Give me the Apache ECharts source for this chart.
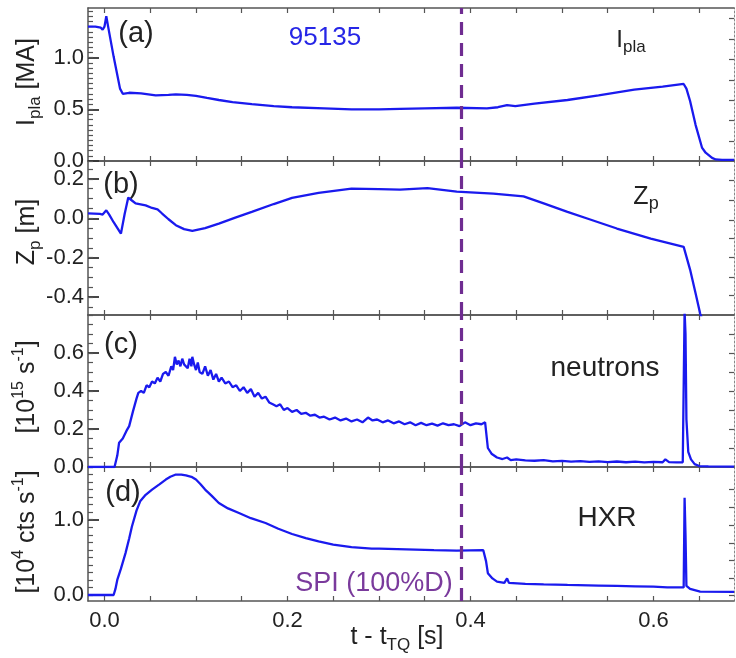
<!DOCTYPE html>
<html>
<head>
<meta charset="utf-8">
<script src="https://cdn.jsdelivr.net/npm/echarts@6/dist/echarts.min.js"></script>
<style>html,body{margin:0;padding:0;background:#fff}#c{width:736px;height:658px}</style>
</head>
<body>
<div id="c"></div>
<script>
// ---------------- DATA ----------------
// Panel (a) plasma current I_pla [MA]
const tA = [-0.018,-0.010,-0.004,-0.002,0.000,0.002,0.004,0.010,0.017,0.020,0.027,0.040,0.056,0.070,0.078,0.090,0.100,0.112,0.125,0.140,0.161,0.185,0.205,0.240,0.270,0.300,0.323,0.350,0.385,0.418,0.430,0.440,0.449,0.470,0.506,0.540,0.579,0.610,0.633,0.636,0.640,0.646,0.653,0.657,0.664,0.668,0.675,0.688];
const vA = [1.30,1.30,1.29,1.27,1.30,1.40,1.30,1.01,0.70,0.65,0.66,0.655,0.635,0.64,0.645,0.64,0.63,0.61,0.59,0.57,0.55,0.53,0.52,0.51,0.50,0.50,0.505,0.51,0.515,0.51,0.52,0.54,0.53,0.555,0.59,0.635,0.69,0.72,0.745,0.70,0.58,0.35,0.13,0.08,0.03,0.015,0.01,0.01];
// Panel (b) vertical position Z_p [m]
const tB = [-0.018,-0.005,-0.002,0.002,0.005,0.010,0.018,0.022,0.026,0.030,0.034,0.045,0.052,0.058,0.063,0.070,0.078,0.087,0.096,0.110,0.125,0.143,0.161,0.185,0.205,0.234,0.270,0.300,0.323,0.353,0.385,0.425,0.458,0.480,0.506,0.530,0.560,0.597,0.633,0.640,0.646,0.651,0.654];
const vB = [0.025,0.022,0.019,0.040,0.020,-0.020,-0.078,0.020,0.105,0.090,0.075,0.065,0.052,0.045,0.024,-0.005,-0.035,-0.055,-0.064,-0.050,-0.027,0.003,0.032,0.072,0.103,0.128,0.150,0.148,0.145,0.153,0.135,0.125,0.111,0.075,0.032,-0.005,-0.052,-0.103,-0.145,-0.26,-0.38,-0.483,-0.52];
// Panel (c) neutrons [1e15 s^-1]
const tC = [-0.018,0.011,0.014,0.016,0.020,0.024,0.027,0.031,0.035,0.037,0.040,0.043,0.046,0.049,0.052,0.055,0.058,0.061,0.064,0.067,0.070,0.073,0.075,0.077,0.079,0.081,0.083,0.085,0.087,0.089,0.091,0.093,0.095,0.096,0.098,0.100,0.102,0.104,0.107,0.110,0.113,0.116,0.119,0.122,0.125,0.128,0.132,0.136,0.140,0.144,0.148,0.152,0.156,0.160,0.164,0.168,0.172,0.176,0.180,0.184,0.188,0.192,0.196,0.200,0.205,0.210,0.215,0.220,0.225,0.230,0.235,0.240,0.246,0.252,0.258,0.264,0.270,0.276,0.282,0.288,0.293,0.298,0.304,0.310,0.316,0.322,0.328,0.334,0.340,0.346,0.352,0.358,0.364,0.370,0.376,0.382,0.388,0.394,0.400,0.406,0.412,0.416,0.419,0.423,0.429,0.435,0.440,0.444,0.450,0.460,0.470,0.480,0.490,0.500,0.510,0.520,0.530,0.540,0.550,0.560,0.570,0.580,0.590,0.600,0.610,0.613,0.617,0.625,0.632,0.634,0.635,0.636,0.638,0.641,0.645,0.650,0.660,0.688];
const vC = [0.0,0.0,0.06,0.128,0.15,0.19,0.215,0.29,0.36,0.39,0.40,0.39,0.43,0.42,0.45,0.44,0.47,0.45,0.49,0.50,0.48,0.53,0.51,0.58,0.54,0.56,0.53,0.57,0.54,0.55,0.52,0.57,0.53,0.58,0.54,0.51,0.55,0.50,0.49,0.53,0.48,0.51,0.46,0.49,0.45,0.47,0.44,0.45,0.42,0.43,0.40,0.42,0.39,0.41,0.37,0.39,0.36,0.37,0.34,0.33,0.32,0.33,0.30,0.31,0.29,0.30,0.28,0.285,0.27,0.275,0.26,0.265,0.25,0.26,0.245,0.255,0.24,0.25,0.235,0.26,0.245,0.25,0.235,0.245,0.23,0.24,0.225,0.235,0.22,0.232,0.22,0.228,0.218,0.23,0.22,0.225,0.215,0.235,0.22,0.23,0.225,0.235,0.10,0.07,0.05,0.042,0.05,0.036,0.04,0.035,0.033,0.036,0.030,0.032,0.028,0.031,0.027,0.030,0.026,0.029,0.025,0.028,0.024,0.027,0.025,0.04,0.026,0.024,0.025,0.82,0.70,0.25,0.08,0.04,0.015,0.005,0.003,0.002];
// Panel (d) HXR [1e4 cts s^-1]
const tD = [-0.018,0.010,0.012,0.014,0.018,0.023,0.027,0.030,0.035,0.039,0.045,0.052,0.060,0.067,0.072,0.078,0.084,0.089,0.095,0.100,0.105,0.110,0.117,0.125,0.135,0.147,0.160,0.176,0.190,0.205,0.220,0.234,0.250,0.270,0.292,0.294,0.296,0.300,0.330,0.360,0.385,0.414,0.417,0.419,0.424,0.429,0.437,0.440,0.442,0.460,0.480,0.506,0.540,0.560,0.580,0.600,0.615,0.633,0.634,0.635,0.636,0.640,0.651,0.688];
const vD = [0.0,0.0,0.08,0.20,0.35,0.556,0.75,0.91,1.12,1.244,1.33,1.40,1.47,1.533,1.57,1.60,1.60,1.59,1.57,1.533,1.47,1.40,1.32,1.222,1.15,1.089,1.02,0.956,0.88,0.81,0.755,0.711,0.67,0.636,0.615,0.64,0.615,0.615,0.605,0.595,0.59,0.595,0.45,0.29,0.22,0.178,0.16,0.22,0.16,0.148,0.14,0.133,0.125,0.12,0.115,0.11,0.102,0.10,1.29,0.80,0.12,0.08,0.044,0.04];

// tick labels
const xTickLabels = [0.0, 0.2, 0.4, 0.6];
const aTicks = [0.0, 0.5, 1.0];
const bTicks = [-0.4, -0.2, 0.0, 0.2];
const cTicks = [0.0, 0.2, 0.4, 0.6];
const dTicks = [0.0, 1.0];
const sliceTime = 0.385;

// ---------------- LAYOUT ----------------
const FONT = '"Liberation Sans", Arial, sans-serif';
const LEFT = 88, WIDTH = 646;
const panels = [
  {top: 8,   height: 153, min: 0,     max: 1.48, ticks: aTicks, minorStep: 0.05, right: [0.19,0.39,0.59,0.78,0.98,1.18,1.38], t: tA, v: vA},
  {top: 161, height: 154, min: -0.49, max: 0.29, ticks: bTicks, minorStep: 0.05, right: [0.19,0.09,-0.01,-0.10,-0.20,-0.30,-0.39], t: tB, v: vB},
  {top: 315, height: 152, min: 0,     max: 0.8,  ticks: cTicks, minorStep: 0.05, right: [0.1,0.2,0.3,0.4,0.5,0.6,0.7], t: tC, v: vC},
  {top: 467, height: 134, min: -0.08, max: 1.7,  ticks: dTicks, minorStep: 0.1,  right: [-0.01,0.22,0.457,0.69,0.93,1.17,1.41], t: tD, v: vD}
];
const XMIN = -0.018, XMAX = 0.688;
function steps(lo, hi, st) {
  const out = [];
  const k0 = Math.ceil(lo / st - 1e-9), k1 = Math.floor(hi / st + 1e-9);
  for (let k = k0; k <= k1; k++) out.push(+(k * st).toFixed(4));
  return out;
}
const xMinor = steps(XMIN, XMAX, 0.05);
const AX = '#555';
const grids = [], xAxes = [], yAxes = [], series = [];
panels.forEach((p, i) => {
  grids.push({left: LEFT, top: p.top, width: WIDTH, height: p.height, containLabel: false});
  const last = i === panels.length - 1;
  xAxes.push({type: 'value', gridIndex: i, min: XMIN, max: XMAX, position: 'bottom',
    axisLine: {show: true, onZero: false, lineStyle: {color: AX, width: 1.5}},
    axisTick: {show: true, inside: true, length: 5, customValues: xMinor, lineStyle: {color: AX, width: 1.2}},
    axisLabel: {show: last, customValues: xTickLabels, formatter: v => v.toFixed(1), fontFamily: FONT, fontSize: 22, color: '#222', margin: 9},
    splitLine: {show: false}});
  xAxes.push({type: 'value', gridIndex: i, min: XMIN, max: XMAX, position: 'top',
    axisLine: {show: true, onZero: false, lineStyle: {color: AX, width: 1.5}},
    axisTick: {show: true, inside: true, length: 5, customValues: xMinor, lineStyle: {color: AX, width: 1.2}},
    axisLabel: {show: false}, splitLine: {show: false}});
  yAxes.push({type: 'value', gridIndex: i, min: p.min, max: p.max, position: 'left',
    axisLine: {show: true, onZero: false, lineStyle: {color: AX, width: 1.5}},
    axisTick: {show: true, inside: true, length: 11, customValues: p.ticks, lineStyle: {color: '#333', width: 1.8}},
    axisLabel: {show: true, customValues: p.ticks, formatter: v => v.toFixed(1), fontFamily: FONT, fontSize: 22, color: '#222', margin: 4},
    splitLine: {show: false}});
  yAxes.push({type: 'value', gridIndex: i, min: p.min, max: p.max, position: 'left',
    axisLine: {show: false, onZero: false},
    axisTick: {show: true, inside: true, length: 5, customValues: steps(p.min, p.max, p.minorStep), lineStyle: {color: AX, width: 1.2}},
    axisLabel: {show: false}, splitLine: {show: false}});
  series.push({type: 'line', xAxisIndex: 2 * i, yAxisIndex: 2 * i, showSymbol: false, symbol: 'none',
    data: p.t.map((t, k) => [t, p.v[k]]),
    lineStyle: {color: '#1a1aee', width: 2.3}, clip: true, animation: false,
    markLine: {silent: true, symbol: 'none', animation: false, label: {show: false},
      lineStyle: {color: '#6f2c91', width: 3.2, type: [13, 8]},
      data: [{xAxis: sliceTime}]}
  });
});
// right-hand frame axes in their own overlay grids (hidden x range excludes zero)
panels.forEach((p, i) => {
  grids.push({left: LEFT, top: p.top, width: WIDTH, height: p.height, containLabel: false});
  xAxes.push({type: 'value', gridIndex: 4 + i, min: 1, max: 2, show: false});
  yAxes.push({type: 'value', gridIndex: 4 + i, min: p.min, max: p.max, position: 'right',
    axisLine: {show: true, onZero: false, lineStyle: {color: '#888', width: 1, type: [2, 2]}},
    axisTick: {show: true, inside: true, length: 5, customValues: p.right, lineStyle: {color: AX, width: 1.2}},
    axisLabel: {show: false}, splitLine: {show: false}});
});

const subRich = (main, sub) => ({
  m: {fontSize: main, fontFamily: FONT, fill: '#222', lineHeight: main + 8},
  s: {fontSize: sub, fontFamily: FONT, fill: '#222', lineHeight: sub, verticalAlign: 'bottom'},
  u: {fontSize: sub, fontFamily: FONT, fill: '#222', lineHeight: sub + 2, verticalAlign: 'top'}
});

function txt(x, y, text, size, color, rich, rot) {
  const el = {type: 'text', x: x, y: y, silent: true,
    style: {text: text, font: size + 'px ' + FONT, fill: color || '#222', align: 'center', verticalAlign: 'middle'}};
  if (rich) el.style.rich = rich;
  if (rot) el.rotation = rot;
  return el;
}
const R = Math.PI / 2;
const graphics = [
  txt(136, 34, '(a)', 29),
  txt(121, 185, '(b)', 29),
  txt(121, 345, '(c)', 29),
  txt(123, 493, '(d)', 29),
  txt(325, 38, '95135', 26, '#2626e6'),
  txt(631, 40, '{m|I}{s|pla}', 24, '#222', subRich(24, 17)),
  txt(646, 197, '{m|Z}{s|p}', 25, '#222', subRich(25, 18)),
  txt(605, 368, 'neutrons', 28),
  txt(607, 518, 'HXR', 28),
  txt(374, 584, 'SPI (100%D)', 27, '#7a3a9c'),
  txt(397, 637, '{m|t - t}{s|TQ}{m| [s]}', 25, '#222', subRich(25, 17)),
  txt(27, 82, '{m|I}{s|pla}{m| [MA]}', 25, '#222', subRich(25, 17), R),
  txt(27, 232, '{m|Z}{s|p}{m| [m]}', 25, '#222', subRich(25, 17), R),
  txt(27, 387, '{m|[10}{u|15}{m| s}{u|-1}{m|]}', 25, '#222', subRich(25, 16), R),
  txt(27, 532, '{m|[10}{u|4}{m| cts s}{u|-1}{m|]}', 25, '#222', subRich(25, 16), R)
];

const chart = echarts.init(document.getElementById('c'), null, {renderer: 'canvas'});
chart.setOption({
  animation: false,
  backgroundColor: '#fff',
  grid: grids, xAxis: xAxes, yAxis: yAxes, series: series,
  graphic: graphics
});
</script>
</body>
</html>
